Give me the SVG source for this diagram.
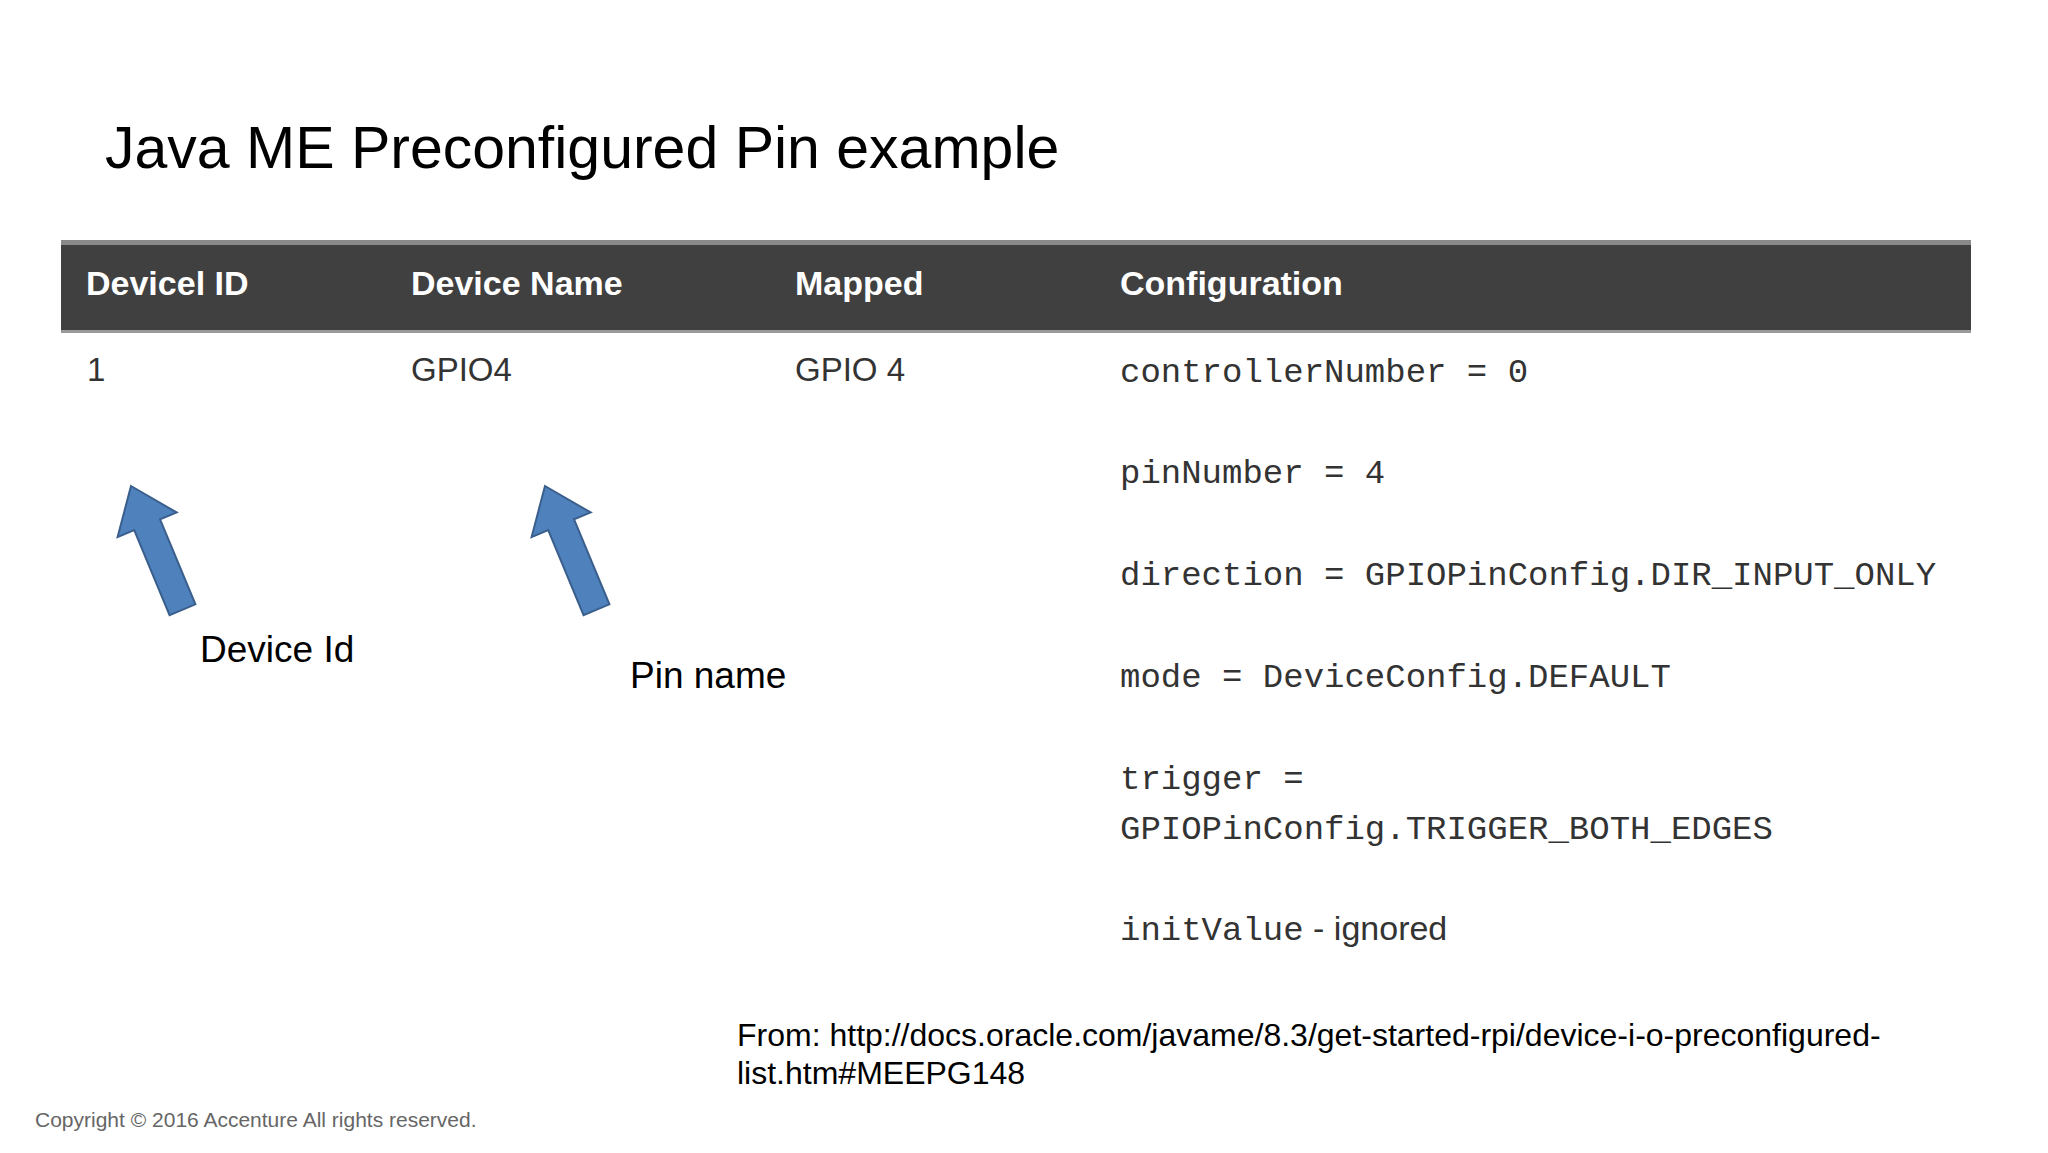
<svg xmlns="http://www.w3.org/2000/svg" width="2048" height="1153" viewBox="0 0 2048 1153">
<style>
.h{font-family:"Liberation Sans",Arial,sans-serif;font-weight:bold;font-size:34px;fill:#fff}
.c{font-family:"Liberation Sans",Arial,sans-serif;font-size:33px;fill:#333}
.m{font-family:"Liberation Mono","Courier New",monospace;font-size:34px;fill:#333}
.s{font-family:"Liberation Sans",Arial,sans-serif;fill:#000}
.arr{fill:#4f81bd;stroke:#3a5f8c;stroke-width:2}
</style>
<defs><polygon id="ar" class="arr" points="0,0 32,42 14,42 14,134 -14,134 -14,42 -32,42"/></defs>
<rect width="2048" height="1153" fill="#fff"/>
<text class="s" x="105" y="168" font-size="59">Java ME Preconfigured Pin example</text>
<g id="table">
<rect x="61" y="242" width="1910" height="91" fill="#404040"/>
<rect x="61" y="240" width="1910" height="5" fill="#8a8a8a"/>
<rect x="61" y="330" width="1910" height="3" fill="#9a9a9a"/>
<text class="h" x="86" y="295">Devicel ID</text>
<text class="h" x="411" y="295">Device Name</text>
<text class="h" x="795" y="295">Mapped</text>
<text class="h" x="1120" y="295">Configuration</text>
<text class="c" x="87" y="381">1</text>
<text class="c" x="411" y="381">GPIO4</text>
<text class="c" x="795" y="381">GPIO 4</text>
<text class="m" x="1120" y="382">controllerNumber = 0</text>
<text class="m" x="1120" y="483">pinNumber = 4</text>
<text class="m" x="1120" y="585">direction = GPIOPinConfig.DIR_INPUT_ONLY</text>
<text class="m" x="1120" y="687">mode = DeviceConfig.DEFAULT</text>
<text class="m" x="1120" y="789">trigger =</text>
<text class="m" x="1120" y="839">GPIOPinConfig.TRIGGER_BOTH_EDGES</text>
<text class="m" x="1120" y="940">initValue<tspan font-family="Liberation Sans,Arial,sans-serif" font-size="34"> - ignored</tspan></text>
</g>
<g id="connectors">
<use href="#ar" transform="translate(131,486) rotate(-22.6)"/>
<use href="#ar" transform="translate(545,486) rotate(-22.6)"/>
</g>
<g id="label-device-id"><text class="s" x="200" y="662" font-size="37">Device Id</text></g>
<g id="label-pin-name"><text class="s" x="630" y="688" font-size="37">Pin name</text></g>
<text class="s" x="737" y="1046" font-size="32">From: http://docs.oracle.com/javame/8.3/get-started-rpi/device-i-o-preconfigured-</text>
<text class="s" x="737" y="1084" font-size="32">list.htm#MEEPG148</text>
<text x="35" y="1127" font-family="Liberation Sans,Arial,sans-serif" font-size="21" fill="#666">Copyright © 2016 Accenture  All rights reserved.</text>
</svg>
